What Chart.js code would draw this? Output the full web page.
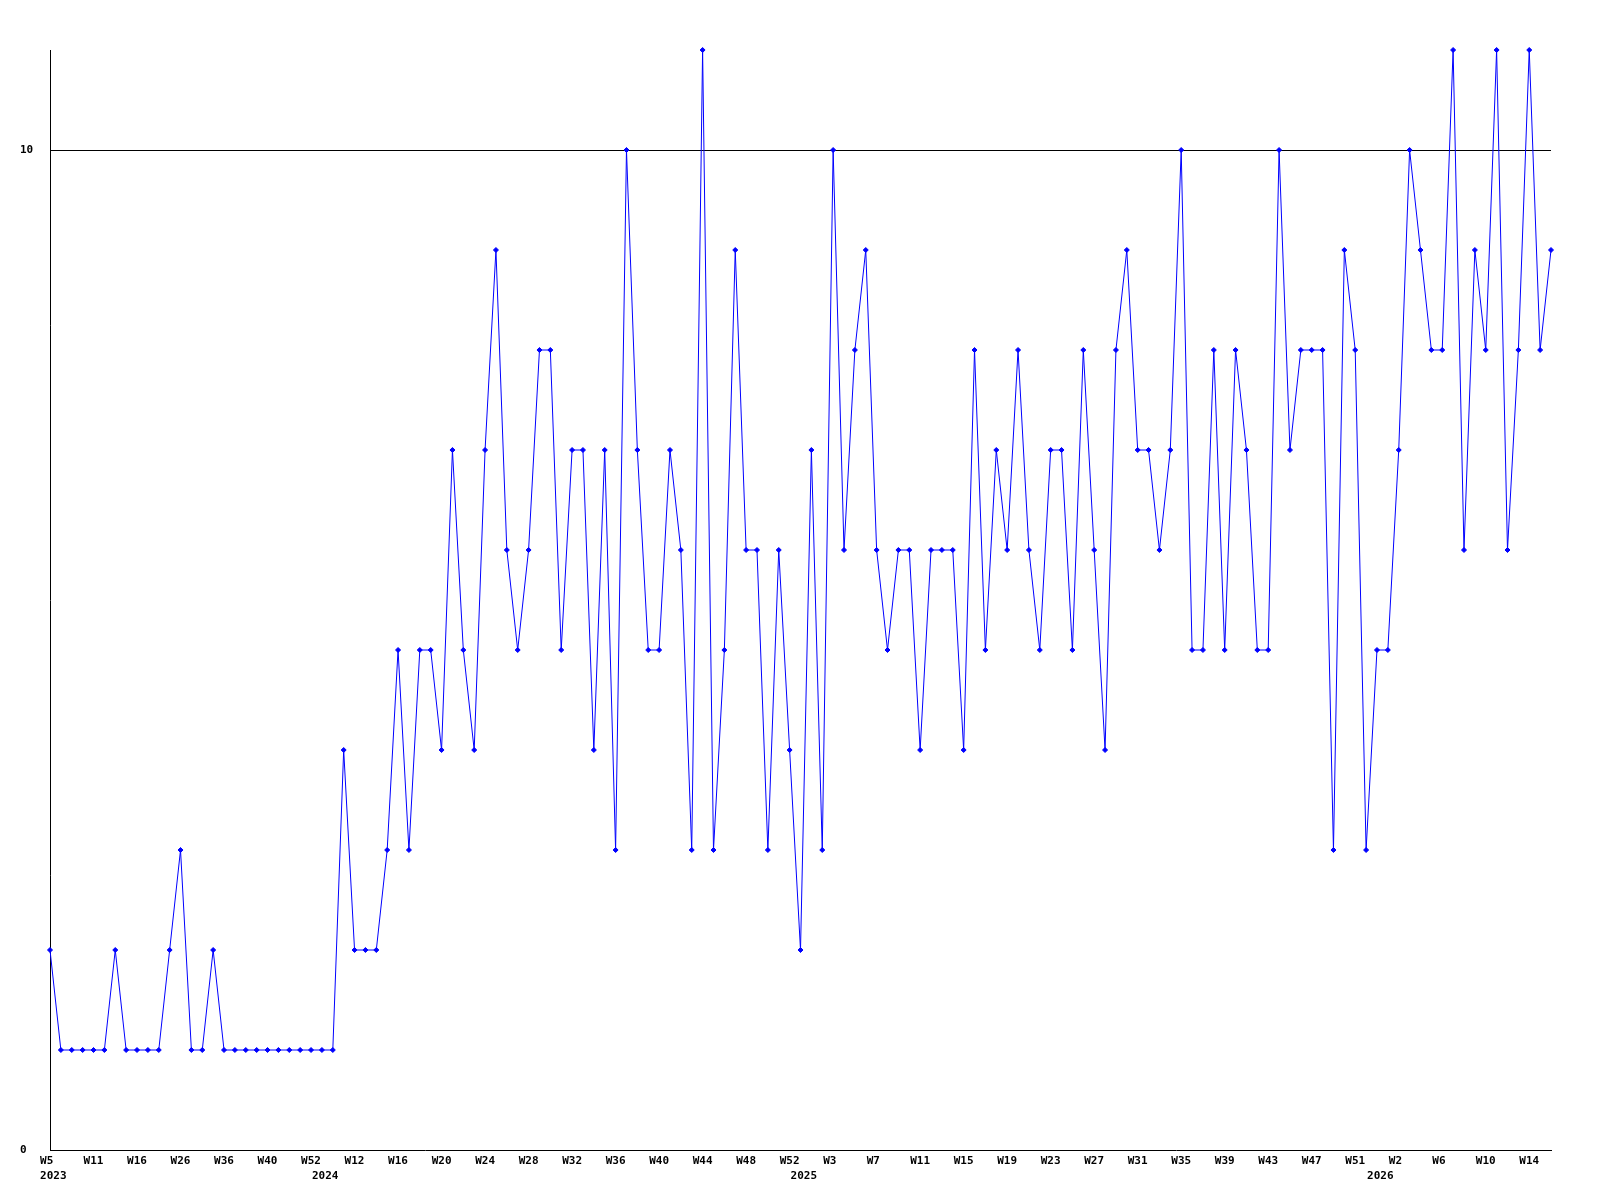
<!DOCTYPE html>
<html>
<head>
<meta charset="utf-8">
<title>Weekly count</title>
<script src="https://cdn.jsdelivr.net/npm/chart.js@4.4.1/dist/chart.umd.min.js"></script>
<style>
  html, body { margin: 0; padding: 0; background: #fff; }
  #wrap { width: 1600px; height: 1200px; }
</style>
</head>
<body>
<div id="wrap"><canvas id="weekChart" width="1600" height="1200"></canvas></div>
<script>
// weeks that have a data point, per year
const years = [2023, 2024, 2025, 2026];
const weeks2023 = [5, 6, 8, 9, 11, 12, 13, 15, 16, 18, 20, 23, 26, 29, 31, 34, 36, 37, 38, 39, 40, 43, 46, 49, 52];
const weeks2024 = [9, 10, 11, 12, 13, 14, 15, 16, 17, 18, 19, 20, 21, 22, 23, 24, 25, 26, 27, 28, 29, 30, 31, 32,
  33, 34, 35, 36, 37, 38, 39, 40, 41, 42, 43, 44, 45, 46, 47, 48, 49, 50, 51, 52];
const weeks2025 = [0, 1, 2, 3, 4, 5, 6, 7, 8, 9, 10, 11, 12, 13, 14, 15, 16, 17, 18, 19, 20, 21, 22, 23, 24, 25, 26,
  27, 28, 29, 30, 31, 32, 33, 34, 35, 36, 37, 38, 39, 40, 41, 42, 43, 44, 45, 46, 47, 48, 49, 50, 51, 52];
const weeks2026 = [0, 1, 2, 3, 4, 5, 6, 7, 8, 9, 10, 11, 12, 13, 14, 15, 16];

const counts = [
  2, 1, 1, 1, 1, 1, 2, 1, 1, 1, 1, 2, 3, 1, 1, 2, 1, 1, 1, 1, 1, 1, 1, 1, 1,
  1, 1, 4, 2, 2, 2, 3, 5, 3, 5, 5, 4, 7, 5, 4, 7, 9,
  6, 5, 6, 8, 8, 5, 7, 7, 4, 7, 3, 10, 7, 5, 5, 7, 6, 3, 11,
  3, 5, 9, 6, 6, 3, 6, 4,
  2, 7, 3, 10, 6, 8, 9, 6, 5, 6, 6,
  4, 6, 6, 6, 4, 8, 5, 7, 6, 8, 6, 5, 7, 7, 5, 8, 6, 4,
  8, 9, 7, 7, 6, 7, 10, 5, 5, 8, 5, 8, 7, 5, 5, 10, 7, 8, 8,
  8, 3, 9, 8, 3,
  5, 5, 7, 10, 9, 8, 8, 11, 6, 9, 8, 11, 6, 8, 11, 8, 9
];

const yTickLabels = [0, 10];

const weekLists = [weeks2023, weeks2024, weeks2025, weeks2026];
const labels = [];
const yearAt = {};
weekLists.forEach((list, i) => {
  yearAt[labels.length] = String(years[i]);
  list.forEach((w) => labels.push('W' + w));
});

const monoFont = {
  family: '"DejaVu Sans Mono", "Liberation Mono", monospace',
  size: 11,
  weight: 'bold',
  lineHeight: '15px',
};

new Chart(document.getElementById('weekChart'), {
  type: 'line',
  data: {
    labels,
    datasets: [
      {
        data: counts,
        borderColor: '#0000ff',
        backgroundColor: '#0000ff',
        borderWidth: 1,
        tension: 0,
        pointStyle: 'rectRot',
        pointRadius: 2.5,
        pointBorderWidth: 1,
        pointBackgroundColor: '#0000ff',
        pointBorderColor: '#0000ff',
        clip: false,
      },
    ],
  },
  options: {
    responsive: false,
    animation: false,
    devicePixelRatio: 1,
    layout: { padding: { left: 20, right: 49, top: 50, bottom: 0 } },
    plugins: {
      legend: { display: false },
      tooltip: { enabled: false },
    },
    scales: {
      x: {
        type: 'category',
        offset: false,
        grid: { display: false, drawTicks: false },
        border: { display: true, color: '#000', width: 1 },
        afterFit: (scale) => { scale.height = 50; },
        ticks: {
          autoSkip: false,
          maxRotation: 0,
          minRotation: 0,
          padding: 4,
          color: '#000',
          font: monoFont,
          callback: function (value, index) {
            const top = index % 4 === 0 ? labels[index].padEnd(3) : '';
            if (yearAt[index]) {
              return [top, ' ' + yearAt[index]];
            }
            return top;
          },
        },
      },
      y: {
        min: 0,
        max: 11,
        afterFit: (scale) => { scale.width = 30; },
        grid: {
          drawTicks: false,
          lineWidth: 1,
          color: (ctx) => (ctx.tick && ctx.tick.value === 10 ? '#000' : 'rgba(0,0,0,0)'),
        },
        border: { display: true, color: '#000', width: 1 },
        ticks: {
          stepSize: 1,
          crossAlign: 'far',
          padding: 17,
          color: '#000',
          font: monoFont,
          callback: (value) => (yTickLabels.includes(value) ? String(value) : ''),
        },
      },
    },
  },
});
</script>
</body>
</html>
